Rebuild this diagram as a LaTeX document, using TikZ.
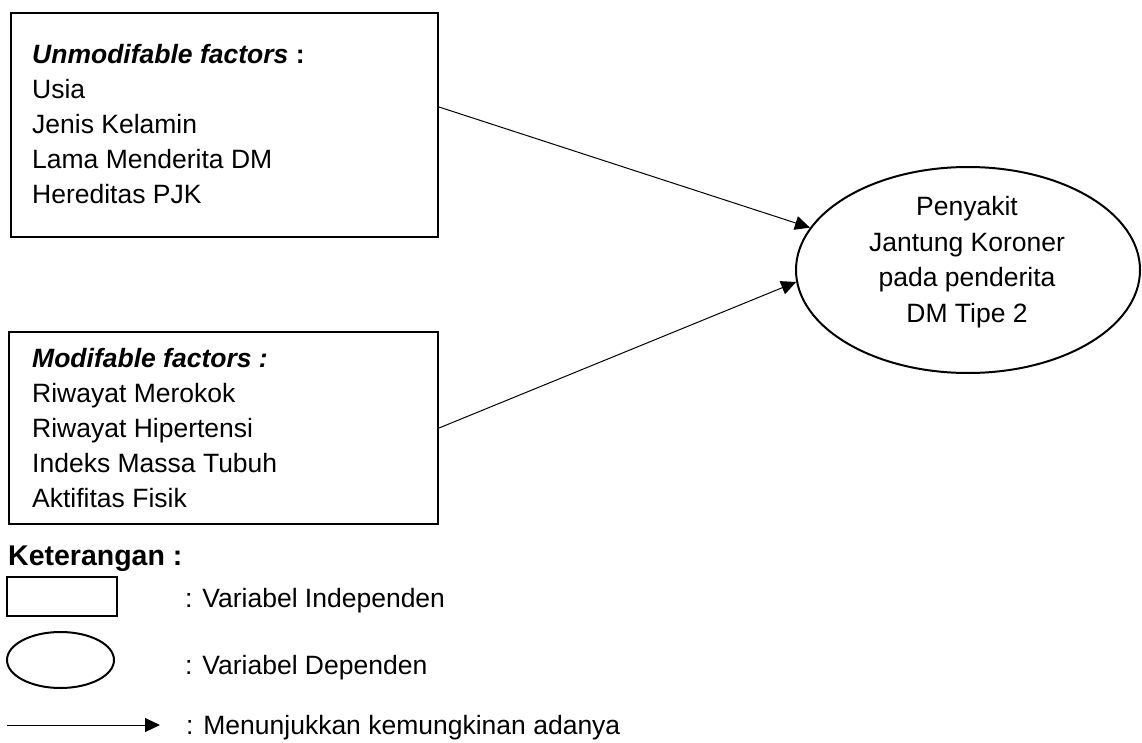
\documentclass[tikz,border=0pt]{standalone}
\usepackage{fontspec}
\setmainfont{Liberation Sans}
\usetikzlibrary{arrows.meta,shapes.geometric}
\begin{document}
\begin{tikzpicture}[x=1pt,y=-1pt,
  boxshape/.style={draw,line width=2pt,rectangle,inner sep=0pt},
  ellshape/.style={draw,line width=2pt,ellipse,inner sep=0pt},
  lines/.style={inner sep=0pt,align=left,anchor=north west,font=\fontsize{26.5}{35}\selectfont},
  lbl/.style={inner sep=0pt,anchor=base west,font=\fontsize{26.5}{30}\selectfont},
  conn/.style={line width=1pt,-{Triangle[length=15pt,width=14pt]}}]
\useasboundingbox (0,0) rectangle (1142,743);
% boxes
\node[boxshape,minimum width=427pt,minimum height=224pt] (u) at (224.5,125) {};
\node[boxshape,minimum width=429pt,minimum height=192pt] (m) at (223.5,428) {};
\node[ellshape,minimum width=344pt,minimum height=206pt] (e) at (968,270) {};
% texts
\node[lines] (ut) at (32,44) {\textbf{\textit{Unmodifable factors}} \textbf{:}\\Usia\\Jenis Kelamin\\Lama Menderita DM\\Hereditas PJK};
\node[lines] (mt) at (32,348) {\textbf{\textit{Modifable factors :}}\\Riwayat Merokok\\Riwayat Hipertensi\\Indeks Massa Tubuh\\Aktifitas Fisik};
\node[inner sep=0pt,align=center,font=\fontsize{26.5}{35.5}\selectfont] (et) at (967,262) {Penyakit\\Jantung Koroner\\pada penderita\\DM Tipe 2};
% connectors
\draw[conn] ([yshift=18pt]u.east) -- (e.165);
\draw[conn] (m.east) -- (e.184);
% legend
\node[lbl,font=\bfseries\fontsize{28.5}{32}\selectfont] (ket) at (8,565) {Keterangan :};
\node[boxshape,minimum width=110pt,minimum height=39pt] (lr) at (62,596.5) {};
\node[ellshape,minimum width=107pt,minimum height=56pt] (le) at (60.5,660) {};
\coordinate (la) at (7,725);
\coordinate (lb) at (160,725);
\draw[conn] (la) -- (lb);
\node[lbl] (l1) at (185,607) {: Variabel Independen};
\node[lbl] (l2) at (185,674) {: Variabel Dependen};
\node[lbl] (l3) at (186,734) {: Menunjukkan kemungkinan adanya};
\end{tikzpicture}
\end{document}
